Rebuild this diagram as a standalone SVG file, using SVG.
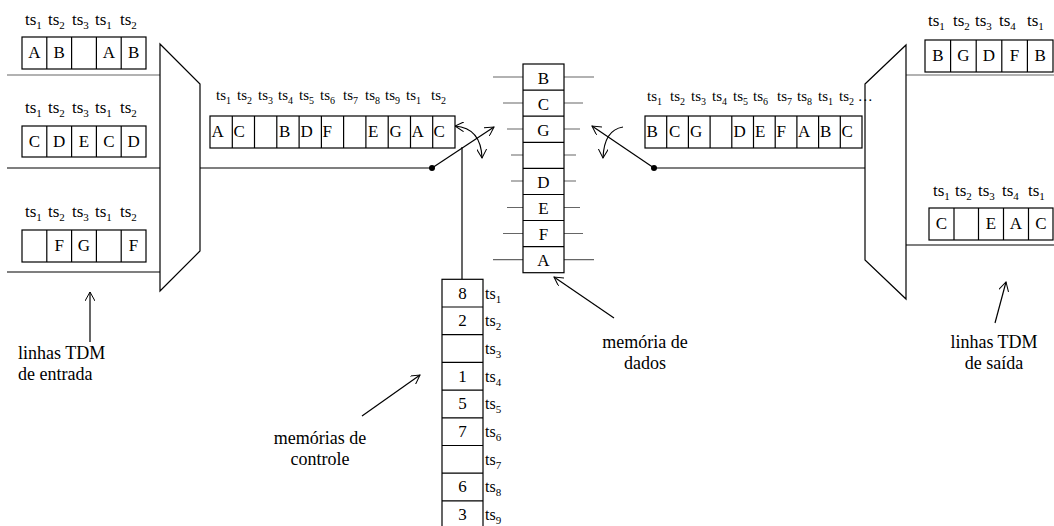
<svg xmlns="http://www.w3.org/2000/svg" width="1054" height="526" viewBox="0 0 1054 526">
<style>
.box{fill:#fff;stroke:#000;stroke-width:1.2}
.ln{stroke:#000;stroke-width:1.2;fill:none}
.gr{stroke:#666;stroke-width:1.2;fill:none}
</style>
<defs>
<marker id="ah" viewBox="0 0 10 10" refX="9" refY="5" markerWidth="10" markerHeight="10" markerUnits="userSpaceOnUse" orient="auto-start-reverse">
<path d="M0,0 L9,5 L0,10" fill="none" stroke="#000" stroke-width="1"/>
</marker>
</defs>

<g id="connectors">
<line class="gr" x1="7" y1="75" x2="160" y2="75"/>
<line class="ln" x1="7" y1="168" x2="160" y2="168"/>
<line class="ln" x1="7" y1="272" x2="160" y2="272"/>
<line class="ln" x1="200" y1="168" x2="432" y2="168"/>
<line class="ln" x1="432" y1="168" x2="494" y2="127" marker-end="url(#ah)"/>
<line class="ln" x1="462" y1="147" x2="462" y2="279"/>
<path class="ln" d="M455,126 Q481,128 482,158" marker-start="url(#ah)" marker-end="url(#ah)"/>
<line class="ln" x1="865" y1="168" x2="654" y2="168"/>
<line class="ln" x1="654" y1="168" x2="592" y2="126" marker-end="url(#ah)"/>
<path class="ln" d="M623,127 Q604,130 603,158" marker-end="url(#ah)"/>
<line class="gr" x1="906" y1="75" x2="1054" y2="75"/>
<line class="ln" x1="906" y1="245" x2="1054" y2="245"/>
<circle cx="432" cy="168" r="3" fill="#000"/>
<circle cx="654" cy="168" r="3" fill="#000"/>
<line class="ln" x1="90" y1="342" x2="90" y2="292" marker-end="url(#ah)"/>
<line class="ln" x1="362" y1="416" x2="420" y2="375" marker-end="url(#ah)"/>
<line class="ln" x1="614" y1="318" x2="554" y2="277" marker-end="url(#ah)"/>
<line class="ln" x1="995" y1="323" x2="1006" y2="282" marker-end="url(#ah)"/>
</g>

<g id="mux-in">
<polygon class="box" points="160,44 200,84 200,251 160,291"/>
</g>
<g id="mux-out">
<polygon class="box" points="865,84 906,45 906,299 865,260"/>
</g>

<g font-family="Liberation Serif, Times New Roman, serif" fill="#000">
<g id="in-line-1">
<rect class="box" x="22" y="37" width="124" height="32"/>
<path class="ln" d="M46.8,37V69M71.6,37V69M96.4,37V69M121.2,37V69"/>
<g font-size="17">
<text x="25" y="25">ts<tspan font-size="11" dy="4">1</tspan></text>
<text x="48" y="25">ts<tspan font-size="11" dy="4">2</tspan></text>
<text x="72" y="25">ts<tspan font-size="11" dy="4">3</tspan></text>
<text x="95" y="25">ts<tspan font-size="11" dy="4">1</tspan></text>
<text x="120" y="25">ts<tspan font-size="11" dy="4">2</tspan></text>
</g>
<g font-size="17" text-anchor="middle">
<text x="34.4" y="58">A</text><text x="59.2" y="58">B</text>
<text x="108.8" y="58">A</text><text x="133.6" y="58">B</text>
</g>
</g>

<g id="in-line-2">
<rect class="box" x="22" y="126" width="124" height="31"/>
<path class="ln" d="M46.8,126V157M71.6,126V157M96.4,126V157M121.2,126V157"/>
<g font-size="17">
<text x="25" y="113">ts<tspan font-size="11" dy="4">1</tspan></text>
<text x="48" y="113">ts<tspan font-size="11" dy="4">2</tspan></text>
<text x="72" y="113">ts<tspan font-size="11" dy="4">3</tspan></text>
<text x="95" y="113">ts<tspan font-size="11" dy="4">1</tspan></text>
<text x="120" y="113">ts<tspan font-size="11" dy="4">2</tspan></text>
</g>
<g font-size="17" text-anchor="middle">
<text x="34.4" y="147">C</text><text x="59.2" y="147">D</text>
<text x="84" y="147">E</text><text x="108.8" y="147">C</text><text x="133.6" y="147">D</text>
</g>
</g>

<g id="in-line-3">
<rect class="box" x="22" y="230" width="124" height="32"/>
<path class="ln" d="M46.8,230V262M71.6,230V262M96.4,230V262M121.2,230V262"/>
<g font-size="17">
<text x="25" y="217">ts<tspan font-size="11" dy="4">1</tspan></text>
<text x="48" y="217">ts<tspan font-size="11" dy="4">2</tspan></text>
<text x="72" y="217">ts<tspan font-size="11" dy="4">3</tspan></text>
<text x="95" y="217">ts<tspan font-size="11" dy="4">1</tspan></text>
<text x="120" y="217">ts<tspan font-size="11" dy="4">2</tspan></text>
</g>
<g font-size="17" text-anchor="middle">
<text x="59.2" y="251">F</text><text x="84" y="251">G</text>
<text x="133.6" y="251">F</text>
</g>
</g>

<g id="in-stream">
<rect class="box" x="210" y="116" width="245" height="32"/>
<path class="ln" d="M232.3,116V148M254.5,116V148M276.8,116V148M299.1,116V148M321.4,116V148M343.6,116V148M365.9,116V148M388.2,116V148M410.5,116V148M432.7,116V148"/>
<g font-size="15">
<text x="216" y="100">ts<tspan font-size="10" dy="4">1</tspan></text>
<text x="237" y="100">ts<tspan font-size="10" dy="4">2</tspan></text>
<text x="258" y="100">ts<tspan font-size="10" dy="4">3</tspan></text>
<text x="278" y="100">ts<tspan font-size="10" dy="4">4</tspan></text>
<text x="299" y="100">ts<tspan font-size="10" dy="4">5</tspan></text>
<text x="320" y="100">ts<tspan font-size="10" dy="4">6</tspan></text>
<text x="343" y="100">ts<tspan font-size="10" dy="4">7</tspan></text>
<text x="365" y="100">ts<tspan font-size="10" dy="4">8</tspan></text>
<text x="385" y="100">ts<tspan font-size="10" dy="4">9</tspan></text>
<text x="406" y="100">ts<tspan font-size="10" dy="4">1</tspan></text>
<text x="431" y="100">ts<tspan font-size="10" dy="4">2</tspan></text>
</g>
<g font-size="17">
<text x="211.5" y="137">A</text><text x="233.5" y="137">C</text>
<text x="279" y="137">B</text><text x="300.5" y="137">D</text>
<text x="322.5" y="137">F</text><text x="368" y="137">E</text>
<text x="389.5" y="137">G</text><text x="411.5" y="137">A</text>
<text x="433.5" y="137">C</text>
</g>
</g>

<g id="data-memory">
<path class="gr" d="M493,77H523M564,77H594M503,103H523M564,103H583M507,129H523M564,129H580M511,155H523M564,155H576M511,181H523M564,181H576M507,207.5H523M564,207.5H580M503,233.5H523M564,233.5H583M493,259.7H523M564,259.7H594"/>
<rect class="box" x="523" y="64" width="41" height="208.7"/>
<path class="ln" stroke-width="1.8" d="M523,90.1H564M523,116.2H564M523,142.3H564M523,168.4H564M523,194.5H564M523,220.5H564M523,246.6H564"/>
<g font-size="17" text-anchor="middle">
<text x="543.5" y="83.5">B</text>
<text x="543.5" y="109.5">C</text>
<text x="543.5" y="135.5">G</text>
<text x="543.5" y="187.5">D</text>
<text x="543.5" y="213.5">E</text>
<text x="543.5" y="239.5">F</text>
<text x="543.5" y="265.5">A</text>
</g>
</g>

<g id="out-stream">
<rect class="box" x="645" y="116" width="217" height="32"/>
<path class="ln" d="M666.7,116V148M688.4,116V148M710.1,116V148M731.8,116V148M753.5,116V148M775.2,116V148M796.9,116V148M818.6,116V148M840.3,116V148"/>
<g font-size="15">
<text x="647" y="101">ts<tspan font-size="10" dy="4">1</tspan></text>
<text x="670" y="101">ts<tspan font-size="10" dy="4">2</tspan></text>
<text x="691" y="101">ts<tspan font-size="10" dy="4">3</tspan></text>
<text x="712" y="101">ts<tspan font-size="10" dy="4">4</tspan></text>
<text x="733" y="101">ts<tspan font-size="10" dy="4">5</tspan></text>
<text x="753" y="101">ts<tspan font-size="10" dy="4">6</tspan></text>
<text x="777" y="101">ts<tspan font-size="10" dy="4">7</tspan></text>
<text x="797" y="101">ts<tspan font-size="10" dy="4">8</tspan></text>
<text x="818" y="101">ts<tspan font-size="10" dy="4">1</tspan></text>
<text x="839" y="101">ts<tspan font-size="10" dy="4">2</tspan><tspan dy="-4"> …</tspan></text>
</g>
<g font-size="17">
<text x="646.5" y="137">B</text><text x="669" y="137">C</text>
<text x="690" y="137">G</text><text x="733.5" y="137">D</text>
<text x="755" y="137">E</text><text x="776.5" y="137">F</text>
<text x="798" y="137">A</text><text x="820" y="137">B</text>
<text x="841.5" y="137">C</text>
</g>
</g>

<g id="out-line-1">
<rect class="box" x="925" y="40" width="128" height="32"/>
<path class="ln" d="M950.6,40V72M976.2,40V72M1001.8,40V72M1027.4,40V72"/>
<g font-size="17">
<text x="928" y="26">ts<tspan font-size="11" dy="4">1</tspan></text>
<text x="953" y="26">ts<tspan font-size="11" dy="4">2</tspan></text>
<text x="975" y="26">ts<tspan font-size="11" dy="4">3</tspan></text>
<text x="999" y="26">ts<tspan font-size="11" dy="4">4</tspan></text>
<text x="1027" y="26">ts<tspan font-size="11" dy="4">1</tspan></text>
</g>
<g font-size="17" text-anchor="middle">
<text x="937.8" y="61">B</text><text x="963.4" y="61">G</text>
<text x="989" y="61">D</text><text x="1014.6" y="61">F</text>
<text x="1040.2" y="61">B</text>
</g>
</g>

<g id="out-line-2">
<rect class="box" x="929" y="208" width="124" height="32"/>
<path class="ln" d="M954,208V240M978.5,208V240M1003.5,208V240M1028.5,208V240"/>
<g font-size="17">
<text x="933" y="196">ts<tspan font-size="11" dy="4">1</tspan></text>
<text x="955" y="196">ts<tspan font-size="11" dy="4">2</tspan></text>
<text x="978" y="196">ts<tspan font-size="11" dy="4">3</tspan></text>
<text x="1002" y="196">ts<tspan font-size="11" dy="4">4</tspan></text>
<text x="1028" y="196">ts<tspan font-size="11" dy="4">1</tspan></text>
</g>
<g font-size="17" text-anchor="middle">
<text x="941.5" y="229">C</text>
<text x="991" y="229">E</text><text x="1016" y="229">A</text>
<text x="1041" y="229">C</text>
</g>
</g>

<g id="control-memory">
<rect class="box" x="442" y="279.3" width="41" height="260"/>
<path class="ln" stroke-width="1.8" d="M442,307H483M442,334.7H483M442,362.4H483M442,390.1H483M442,417.8H483M442,445.5H483M442,473.2H483M442,500.9H483"/>
<g font-size="17" text-anchor="middle">
<text x="462.5" y="298.5">8</text>
<text x="462.5" y="326.2">2</text>
<text x="462.5" y="381.6">1</text>
<text x="462.5" y="409.3">5</text>
<text x="462.5" y="437">7</text>
<text x="462.5" y="492.4">6</text>
<text x="462.5" y="520.1">3</text>
</g>
<g font-size="16">
<text x="485" y="298.5">ts<tspan font-size="11" dy="4">1</tspan></text>
<text x="485" y="326.2">ts<tspan font-size="11" dy="4">2</tspan></text>
<text x="485" y="353.9">ts<tspan font-size="11" dy="4">3</tspan></text>
<text x="485" y="381.6">ts<tspan font-size="11" dy="4">4</tspan></text>
<text x="485" y="409.3">ts<tspan font-size="11" dy="4">5</tspan></text>
<text x="485" y="437">ts<tspan font-size="11" dy="4">6</tspan></text>
<text x="485" y="464.7">ts<tspan font-size="11" dy="4">7</tspan></text>
<text x="485" y="492.4">ts<tspan font-size="11" dy="4">8</tspan></text>
<text x="485" y="520.1">ts<tspan font-size="11" dy="4">9</tspan></text>
</g>
</g>

<g id="label-in" font-size="18">
<text x="18" y="359">linhas TDM</text>
<text x="18" y="380">de entrada</text>
</g>
<g id="label-control" font-size="18" text-anchor="middle">
<text x="320" y="444">memórias de</text>
<text x="320" y="465">controle</text>
</g>
<g id="label-data" font-size="18" text-anchor="middle">
<text x="645" y="348">memória de</text>
<text x="645" y="369">dados</text>
</g>
<g id="label-out" font-size="18" text-anchor="middle">
<text x="994" y="348">linhas TDM</text>
<text x="994" y="369">de saída</text>
</g>
</g>
</svg>
